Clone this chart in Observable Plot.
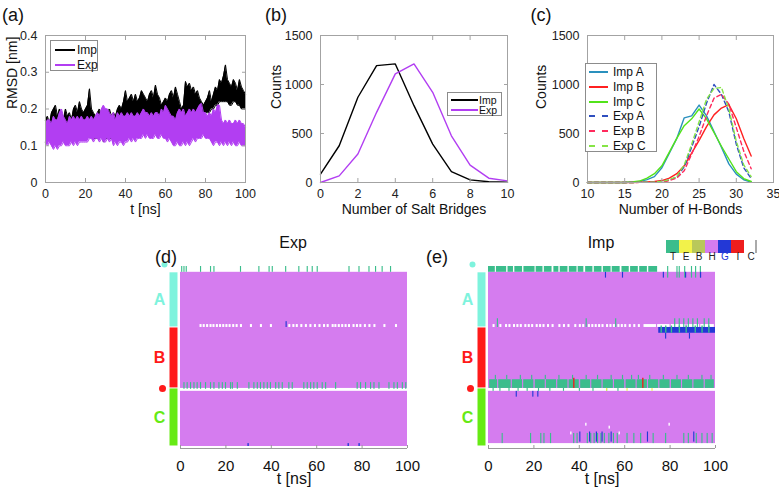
<!DOCTYPE html>
<html><head><meta charset="utf-8">
<script src="https://cdn.jsdelivr.net/npm/d3@7"></script>
<script src="https://cdn.jsdelivr.net/npm/@observablehq/plot@0.6"></script>
<style>
body{margin:0;background:#fff;font-family:"Liberation Sans",Arial,sans-serif;}
#root{position:relative;width:779px;height:492px;overflow:hidden;background:#fff;}
svg{overflow:visible;}
.lg{position:absolute;background:#fff;border:1px solid #8c8c8c;box-sizing:border-box;}
.lg .it{position:absolute;white-space:nowrap;color:#111;}
.lg .sw{position:absolute;height:0;}
.t{position:absolute;white-space:nowrap;color:#111;transform:translate(-50%,-50%);}
</style></head><body><div id="root"></div><script>
// ---------------- DATA ----------------
// (a) RMSD envelopes (nm), sampled at 1 ns, t = 0..100
const rmsdTime = d3.range(0, 101, 1);
const impHi = [0.17,0.18,0.16,0.19,0.2,0.21,0.18,0.2,0.19,0.17,0.2, 0.18,0.19,0.17,0.2,0.21,0.19,0.22,0.2,0.19,0.2, 0.21,0.255,0.2,0.19,0.18,0.19,0.2,0.18,0.19,0.18, 0.19,0.2,0.18,0.19,0.18,0.2,0.21,0.2,0.22,0.25, 0.22,0.23,0.24,0.22,0.24,0.22,0.23,0.25,0.24,0.23, 0.22,0.24,0.25,0.23,0.265,0.24,0.23,0.21,0.22,0.23, 0.22,0.24,0.25,0.23,0.26,0.24,0.22,0.2,0.21,0.275, 0.26,0.27,0.25,0.26,0.24,0.25,0.23,0.22,0.21,0.22, 0.23,0.25,0.22,0.24,0.26,0.25,0.28,0.27,0.29,0.32, 0.28,0.27,0.26,0.28,0.27,0.25,0.28,0.26,0.25,0.24];
const impLo = [0.11,0.12,0.13,0.12,0.11,0.12,0.13,0.12,0.12,0.13,0.11, 0.11,0.12,0.12,0.13,0.12,0.13,0.12,0.13,0.12,0.13, 0.13,0.14,0.13,0.12,0.12,0.12,0.13,0.13,0.11,0.12, 0.12,0.12,0.12,0.13,0.13,0.13,0.12,0.14,0.15,0.14, 0.14,0.15,0.15,0.15,0.15,0.14,0.15,0.16,0.16,0.15, 0.15,0.16,0.15,0.16,0.16,0.16,0.16,0.15,0.15,0.16, 0.16,0.16,0.17,0.17,0.16,0.17,0.17,0.16,0.16,0.17, 0.17,0.17,0.18,0.18,0.17,0.17,0.18,0.18,0.19,0.19, 0.19,0.19,0.2,0.2,0.21,0.21,0.22,0.22,0.22,0.22, 0.22,0.21,0.21,0.22,0.22,0.21,0.21,0.2,0.2,0.2];
const expHi = [0.16,0.17,0.17,0.16,0.18,0.17,0.17,0.19,0.2,0.18,0.17, 0.16,0.18,0.17,0.18,0.17,0.18,0.17,0.18,0.17,0.17, 0.18,0.17,0.18,0.17,0.18,0.19,0.18,0.2,0.21,0.2, 0.2,0.19,0.18,0.19,0.17,0.19,0.18,0.19,0.18,0.18, 0.19,0.18,0.19,0.18,0.18,0.19,0.18,0.19,0.2,0.19, 0.19,0.18,0.19,0.18,0.19,0.19,0.18,0.2,0.19,0.21, 0.2,0.19,0.18,0.18,0.17,0.19,0.2,0.19,0.2,0.18, 0.19,0.2,0.19,0.2,0.19,0.2,0.21,0.215,0.19,0.19, 0.18,0.19,0.18,0.2,0.19,0.21,0.21,0.17,0.16,0.17, 0.16,0.17,0.16,0.16,0.17,0.16,0.17,0.16,0.16,0.15];
const expLo = [0.11,0.1,0.11,0.1,0.09,0.1,0.09,0.1,0.1,0.11,0.1, 0.1,0.1,0.11,0.1,0.11,0.1,0.11,0.11,0.11,0.11, 0.11,0.12,0.12,0.11,0.12,0.12,0.11,0.12,0.11,0.11, 0.12,0.11,0.12,0.1,0.11,0.1,0.11,0.11,0.1,0.11, 0.11,0.12,0.11,0.12,0.11,0.12,0.12,0.12,0.13,0.12, 0.13,0.12,0.12,0.12,0.13,0.12,0.12,0.13,0.12,0.12, 0.11,0.12,0.11,0.1,0.1,0.11,0.1,0.1,0.11,0.1, 0.11,0.1,0.11,0.12,0.11,0.12,0.12,0.12,0.13,0.12, 0.12,0.12,0.11,0.1,0.11,0.11,0.1,0.11,0.1,0.11, 0.1,0.11,0.1,0.11,0.1,0.1,0.11,0.1,0.1,0.1];

// (b) salt bridges
const saltN = [0,1,2,3,4,5,6,7,8,9,10];
const saltImp = [85,375,870,1193,1210,784,392,112,27,7,2];
const saltExp = [0,68,290,716,1108,1210,920,477,177,44,17];

// (c) H-bonds, 10..32
const hbN = d3.range(10, 33, 1);
const hbImpA = [0,0,0,0,0,0,5,10,30,60,150,300,450,660,680,790,680,520,360,190,85,28,5];
const hbImpB = [0,0,0,0,0,0,0,2,5,10,20,45,90,170,300,430,570,690,760,795,650,450,270];
const hbImpC = [0,0,0,0,0,0,5,15,45,90,170,310,450,580,650,750,650,510,370,240,110,40,10];
const hbExpA = [0,0,0,0,0,0,0,2,3,5,10,25,55,160,360,570,810,1000,900,720,390,150,40];
const hbExpB = [0,0,0,0,0,0,0,1,2,4,5,20,45,120,290,470,680,860,900,800,560,320,140];
const hbExpC = [0,0,0,0,0,0,0,2,3,5,10,30,60,180,390,620,850,960,970,750,420,180,60];

// secondary structure
const ssStates = ["T","E","B","H","G","I","C"];
const ssColors = ["#3bbd8c","#f2f24a","#b9c85a","#d57cef","#2338d6","#ee1d1d","#ffffff"];
const simSpan = [0, 100];
const chains = [{name:"A", r0:2, r1:21, color:"#7ef3dd"},{name:"B", r0:21, r1:42, color:"#ff1a1a"},{name:"C", r0:42, r1:62, color:"#66ea14"}];
const nTermDot = [{r:0, color:"#7ef3dd"}];
const bcDot = [{r:42, color:"#ff1a1a"}];

// Exp (d)
const dHelix = [[2,42],[43,62]];
const dTopT = [0.5,1.5,2.5,8.8,13.2,14.7,26.4,34.5,39,40.4,46.3,52.1,55.8,58,60.2,74.2,78.6,83,85.9,88.8,92.5];
const dABcoil = [8.6,10,11.5,13,14.3,15.8,17.2,18.6,20,21.4,23,24.5,26.4,30.8,35.2,39.6,47.7,49.5,51,53,55,57,59,61,63,64.6,66.8,68,69.5,71,72.5,74,76,77.5,79,81,83,85.2,89.6,94.7];
const dABG = [46.5];
const dBCturn = [1.5,2.9,4.4,5.9,7.3,8.8,11,13.2,14.7,16.9,18.4,19.8,22,22.8,25,30.1,32.3,33.8,35.2,36.7,38.2,39.6,41.9,43.3,44.8,47.7,49.2,54.3,55.8,57.3,58.7,60.2,62.4,63.9,68.3,77.8,79.3,81.5,83.7,85.2,87.4,91.8,94,95.5,97.7,99.2];
const dCbottomG = [29.7,73.8,78.6];

// Imp (e)
const eHelix = [[2,42],[43,61]];
const eTopTspans = [[0,3],[3.5,8],[8.6,11],[11.6,15],[15.6,20.5],[21,24],[24.6,28],[28.8,31],[31.6,35],[35.6,39],[39.5,42],[42.8,46],[46.6,50],[50.6,54],[54.5,58],[58.8,62],[62.6,66],[66.6,70],[70.6,74.5]];
const eTopTsparse = [78.9,83,84,86.4,89.4,91.2,93.3];
const eAG = [51.5,59,77,86.8,93.4];
const eABcoil = [2,5,7.5,9,11,12.5,14,16,17.5,19,21,22.5,24,26,28,31,33,35,38,40,41.5,44,45.5,47,48.5,50,52,53.5,55,57,58.5,60,62,64,66];
const eABcoilSpans = [[68.5,74],[74.5,80],[80.5,87],[87.5,93],[93.5,99.5]];
const eABturn = [3.9,43,56,82,84,86,88,90,92,95,97];
const eGband = [[75,100]];
const eGbandT = [76,78,80.5,84,87,91,94,97];
const eGbelow = [78,88.5];
const eBCturnSpans = [[0.5,4],[4.5,10],[10.5,15],[15.5,20],[20.6,25],[25.5,30],[30.5,35],[35.5,40],[40.6,45],[45.5,50],[50.5,55],[55.5,60],[60.6,65],[65.5,70],[70.5,75],[75.5,80],[80.6,85],[85.5,90],[90.5,95],[95.5,99.5]];
const eBCturnUp = [3,8,14,19,25,31,37,43,48,54,59,63,66,71,77,83,88,94,98];
const eBCpi = [37.5,67.9];
const eBCbelowT = [2,5,9,13,17,22,27,33,40,46,52,57];
const eBCbelowE = [52,61,72];
const eCtopG = [12.2,19.5,21.7];
const eCbottomT = [6,18.5,23,24.4,27.3,37.5,39,43.5,45,46.5,48,49.5,51,53,55,56.7,61,64,67,72.5,78,86,88,91.5,94,96.3,98.5];
const eCbottomG = [40.2,44.5,47.5,50,54,70,90.4];
const eCcoil = [[42.8,54],[53.1,55],[57.5,57],[79.5,54],[36.2,57]];

// ---------------- HELPERS ----------------
const root = document.getElementById("root");
const FONT = "Liberation Sans, Arial, sans-serif";
function place(node, left, top){const d=document.createElement("div");d.style.cssText=`position:absolute;left:${left}px;top:${top}px;`;d.appendChild(node);root.appendChild(d);}
function text(txt, cx, cy, css){const d=document.createElement("div");d.className="t";d.textContent=txt;d.style.left=cx+"px";d.style.top=cy+"px";d.style.cssText+=css||"";root.appendChild(d);}
function legend(left, top, w, h, items, font, swX, swW, txtX, y0, dy){
  const box=document.createElement("div");box.className="lg";
  box.style.cssText+=`left:${left}px;top:${top}px;width:${w}px;height:${h}px;`;
  items.forEach((it,i)=>{
    const y=y0+i*dy;
    const s=document.createElement("div");s.className="sw";
    s.style.cssText+=`left:${swX}px;width:${swW}px;top:${y-1}px;border-top:2px ${it.dash?"dashed":"solid"} ${it.color};`;
    const t=document.createElement("div");t.className="it";t.textContent=it.label;
    t.style.cssText+=`left:${txtX}px;top:${y}px;transform:translateY(-50%);font-size:${font}px;line-height:1;`;
    box.appendChild(s);box.appendChild(t);
  });
  root.appendChild(box);
}
const GRAY="#a3a3a3";
function boxAxes(xTicks, yTicks, fy){
  return [
    Plot.frame({stroke:GRAY}),
    Plot.axisX(xTicks,{anchor:"bottom",tickSize:-4,tickPadding:11,stroke:GRAY,fill:"#222",fontSize:12.5,label:null}),
    Plot.axisX(xTicks,{anchor:"top",tickSize:-4,tickFormat:()=>"",stroke:GRAY,label:null}),
    Plot.axisY(yTicks,{anchor:"left",tickSize:-4,tickPadding:12,stroke:GRAY,fill:"#222",fontSize:12.5,label:null,tickFormat:fy}),
    Plot.axisY(yTicks,{anchor:"right",tickSize:-4,tickFormat:()=>"",stroke:GRAY,label:null})
  ];
}
const tTicks=[0,20,40,60,80,100];

// ---------------- (a) ----------------
const rmsd = rmsdTime.map((t,i)=>({t, ih:impHi[i], il:impLo[i], eh:expHi[i], el:expLo[i]}));
const IMP="#000000", EXP="#b23ef2";
place(Plot.plot({
  width:260,height:220,marginLeft:45,marginRight:15,marginTop:35,marginBottom:38,
  style:{fontFamily:FONT,fontSize:"13px",background:"transparent"},
  x:{domain:[0,100]}, y:{domain:[0,0.4]},
  marks:[
    Plot.areaY(rmsd,{x:"t",y1:"il",y2:"ih",fill:IMP}),
    Plot.line(rmsd,{x:"t",y:"ih",stroke:IMP,strokeWidth:1}),
    Plot.line(rmsd,{x:"t",y:"il",stroke:IMP,strokeWidth:1}),
    Plot.areaY(rmsd,{x:"t",y1:"el",y2:"eh",fill:EXP}),
    Plot.line(rmsd,{x:"t",y:"eh",stroke:EXP,strokeWidth:1}),
    Plot.line(rmsd,{x:"t",y:"el",stroke:EXP,strokeWidth:1}),
    ...boxAxes(tTicks,[0,0.1,0.2,0.3,0.4],d=>d===0?"0":d.toFixed(1)),
    Plot.text(["t [ns]"],{text:d=>d,frameAnchor:"bottom",dy:31,fontSize:14,fill:"#111"}),
    Plot.text(["RMSD [nm]"],{text:d=>d,frameAnchor:"left",dx:-33,rotate:-90,fontSize:14,fill:"#111"})
  ]
}),0,0);
legend(50,40,48,31,[{label:"Imp",color:IMP},{label:"Exp",color:EXP}],12,4,20,26,9,15);

// ---------------- (b) ----------------
const salt = saltN.map((n,i)=>({n, imp:saltImp[i], exp:saltExp[i]}));
place(Plot.plot({
  width:260,height:220,marginLeft:60,marginRight:13,marginTop:35,marginBottom:38,
  style:{fontFamily:FONT,fontSize:"13px",background:"transparent"},
  x:{domain:[0,10]}, y:{domain:[0,1500]},
  marks:[
    Plot.line(salt,{x:"n",y:"imp",stroke:IMP,strokeWidth:1.4}),
    Plot.line(salt,{x:"n",y:"exp",stroke:EXP,strokeWidth:1.4}),
    ...boxAxes([0,2,4,6,8,10],[0,500,1000,1500],d3.format("d")),
    Plot.text(["Number of Salt Bridges"],{text:d=>d,frameAnchor:"bottom",dy:31,fontSize:14,fill:"#111"}),
    Plot.text(["Counts"],{text:d=>d,frameAnchor:"left",dx:-44,rotate:-90,fontSize:14,fill:"#111"})
  ]
}),260,0);
legend(447,92,55,24,[{label:"Imp",color:IMP},{label:"Exp",color:EXP}],10.5,3,27,31,6.5,10.5);

// ---------------- (c) ----------------
const hbSeries = [
  {name:"Imp A", v:hbImpA, color:"#2a90bd", dash:false},
  {name:"Imp B", v:hbImpB, color:"#ff2020", dash:false},
  {name:"Imp C", v:hbImpC, color:"#52e31a", dash:false},
  {name:"Exp A", v:hbExpA, color:"#2f4fbf", dash:true},
  {name:"Exp B", v:hbExpB, color:"#ff2a5c", dash:true},
  {name:"Exp C", v:hbExpC, color:"#86e446", dash:true}
];
const hbMarks = hbSeries.map(s=>Plot.line(hbN.map((n,i)=>({n, c:s.v[i]})),{x:"n",y:"c",stroke:s.color,strokeWidth:1.4,strokeDasharray:s.dash?"4,3":null}));
place(Plot.plot({
  width:259,height:220,marginLeft:67,marginRight:6,marginTop:35,marginBottom:38,
  style:{fontFamily:FONT,fontSize:"13px",background:"transparent"},
  x:{domain:[10,35]}, y:{domain:[0,1500]},
  marks:[
    ...hbMarks,
    ...boxAxes([10,15,20,25,30,35],[0,500,1000,1500],d3.format("d")),
    Plot.text(["Number of H-Bonds"],{text:d=>d,frameAnchor:"bottom",dy:31,fontSize:14,fill:"#111"}),
    Plot.text(["Counts"],{text:d=>d,frameAnchor:"left",dx:-46,rotate:-90,fontSize:14,fill:"#111"})
  ]
}),520,0);
legend(585,63,72,89,hbSeries.map(s=>({label:s.name,color:s.color,dash:s.dash})),12,3,19,27,8,14.8);

// panel letters top
text("(a)",13,15,"font-size:18px;");
text("(b)",276,15,"font-size:18px;");
text("(c)",541,15,"font-size:18px;");

// ---------------- secondary structure maps ----------------
function pts(list,w,r0,r1,s){return list.map(t=>({t0:t,t1:t+w,r0,r1,s}));}
function spans(list,r0,r1,s){return list.map(([a,b])=>({t0:a,t1:b,r0,r1,s}));}

const dEvents = [
  ...pts(dTopT,0.5,0,2,"T"),
  ...pts(dABcoil,0.9,20,21,"C"),
  ...pts(dABG,0.5,19,21,"G"),
  ...pts(dBCturn,0.5,40,42.3,"T"),
  ...pts(dCbottomG,0.6,61,62,"G")
];
const eEvents = [
  ...spans(eTopTspans,0,2,"T"),
  ...pts(eTopTsparse,0.5,0,4,"T"),
  ...pts(eAG,0.5,2,4,"G"),
  ...pts(eABcoil,0.9,20,21,"C"),
  ...spans(eABcoilSpans,20,21,"C"),
  ...pts(eABturn,0.5,18,21,"T"),
  ...spans(eGband,21,23,"G"),
  ...pts(eGbandT,0.6,20.5,23,"T"),
  ...pts(eGbelow,0.5,23,25,"G"),
  ...spans(eBCturnSpans,39,42,"T"),
  ...pts(eBCturnUp,0.5,37.5,39,"T"),
  ...pts(eBCpi,0.6,38.5,42,"I"),
  ...pts(eBCbelowT,0.5,42,43,"T"),
  ...pts(eBCbelowE,0.5,42,43,"E"),
  ...pts(eCtopG,0.5,43,45,"G"),
  ...pts(eCbottomT,0.5,57.5,61,"T"),
  ...pts(eCbottomG,0.5,57,60.5,"G"),
  ...eCcoil.map(([t,r])=>({t0:t,t1:t+0.6,r0:r,r1:r+1,s:"C"}))
];

function ssPlot(helix, events, W, mL, mR){
  return Plot.plot({
    width:W,height:267,marginLeft:mL,marginRight:mR,marginTop:41,marginBottom:46,
    style:{fontFamily:FONT,fontSize:"15px",background:"transparent"},
    x:{domain:simSpan},
    y:{domain:[0,62],reverse:true,axis:null},
    color:{type:"ordinal",domain:ssStates,range:ssColors},
    marks:[
      Plot.rect(helix,{x1:()=>simSpan[0],x2:()=>simSpan[1],y1:d=>d[0],y2:d=>d[1],fill:()=>"H"}),
      Plot.rect(events,{x1:"t0",x2:"t1",y1:"r0",y2:"r1",fill:"s"}),
      Plot.ruleX(chains,{x:()=>0,y1:"r0",y2:"r1",stroke:"color",strokeWidth:8,dx:-7,insetTop:0.5,insetBottom:0.5}),
      Plot.text(chains,{x:()=>0,y:d=>(d.r0+d.r1)/2,text:"name",fill:"color",fontWeight:"bold",fontSize:16,dx:-21}),
      Plot.dot(nTermDot,{x:()=>0,y:"r",fill:"color",r:3,dx:-16,dy:-2}),
      Plot.dot(bcDot,{x:()=>0,y:"r",fill:"color",r:3.5,dx:-18}),
      Plot.ruleY([62],{stroke:"#9a9a9a",dy:2}),
      Plot.axisX(tTicks,{anchor:"bottom",tickSize:-3,tickPadding:15,dy:2,stroke:"#9a9a9a",fill:"#111",fontSize:15,label:null}),
      Plot.text(["t [ns]"],{text:d=>d,frameAnchor:"bottom",dy:37,fontSize:16,fill:"#111"})
    ]
  });
}
place(ssPlot(dHelix,dEvents,280,40,13),140,225);
place(ssPlot(eHelix,eEvents,290,48,15),440,225);
text("Exp",293,243,"font-size:16px;");
text("Imp",601,243,"font-size:16px;");
text("(d)",166,257,"font-size:18px;");
text("(e)",437,257,"font-size:18px;");

// state legend
place(Plot.plot({
  width:110,height:32,marginLeft:5,marginRight:12,marginTop:5,marginBottom:14,
  style:{fontFamily:FONT,fontSize:"10px",background:"transparent"},
  x:{type:"band",domain:ssStates,padding:0,axis:null},
  color:{type:"ordinal",domain:ssStates,range:ssColors},
  marks:[
    Plot.cell(ssStates,{x:d=>d,fill:d=>d}),
    Plot.ruleX(["C"],{x:d=>d,stroke:"#aaaaaa",strokeWidth:2,dx:5}),
    Plot.text(ssStates,{x:d=>d,text:d=>d,frameAnchor:"bottom",dy:6,fontSize:10,fill:d=>d==="G"?"#2338d6":"#222"})
  ]
}),660,235);
</script></body></html>
